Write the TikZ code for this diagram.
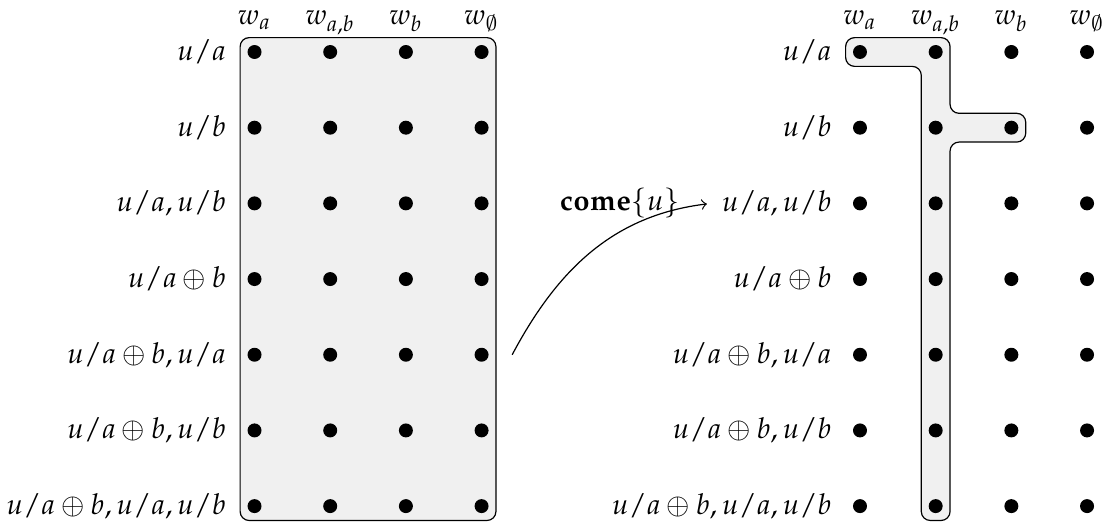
\documentclass[tikz,border=0pt]{standalone}
\usepackage{mathpazo}
\usetikzlibrary{positioning}
\DeclareSymbolFont{cmsyfont}{OMS}{cmsy}{m}{n}
\DeclareMathSymbol{\cmempty}{\mathord}{cmsyfont}{"3B}

\begin{document}
\begin{tikzpicture}[
  x=0.888cm, y=0.888cm,
  font=\fontsize{9.6}{11}\selectfont,
  pt/.style={circle, fill=black, inner sep=0pt, minimum size=0.164cm},
  region/.style={draw, fill=black!6, rounded corners=3pt},
  >=to
]
\useasboundingbox (-3.363,0.687) rectangle (11.277,-6.289);

% the two sets
\draw[region] (-0.19,0.19) rectangle (3.19,-6.19);
\draw[region] (7.81,0.19) -- (9.19,0.19) -- (9.19,-0.81) -- (10.19,-0.81)
  -- (10.19,-1.19) -- (9.19,-1.19) -- (9.19,-6.19) -- (8.81,-6.19)
  -- (8.81,-0.19) -- (7.81,-0.19) -- cycle;

% worlds
\foreach \h [count=\j] in {{$w_a$},{$w_{a,b}$},{$w_b$},{$w_\cmempty$}} {
  \node[anchor=base] (lw-\j) at (\j-1,0.357) {\h};
  \node[anchor=base] (rw-\j) at (\j+7,0.357) {\h};
}

% assignments
\foreach \txt [count=\i] in {{$u/a$},{$u/b$},{$u/a, u/b$},{$u/a\oplus b$},
    {$u/a\oplus b, u/a$},{$u/a\oplus b, u/b$},{$u/a\oplus b, u/a, u/b$}} {
  \foreach \j in {1,...,4} {
    \node[pt] (l-\i-\j) at (\j-1,1-\i) {};
    \node[pt] (r-\i-\j) at (\j+7,1-\i) {};
  }
  \node[left=0.12cm of l-\i-1] (ll-\i) {\txt};
  \node[left=0.12cm of r-\i-1] (rl-\i) {\txt};
}

% update
\coordinate[right=0.27cm of l-5-4] (src);
\node[left=0.25cm of rl-3] (act) {$\mathbf{come}\{u\}$};
\draw[->, shorten >=1.5pt] (src) to[out=62, in=187] (rl-3.west);
\end{tikzpicture}
\end{document}
